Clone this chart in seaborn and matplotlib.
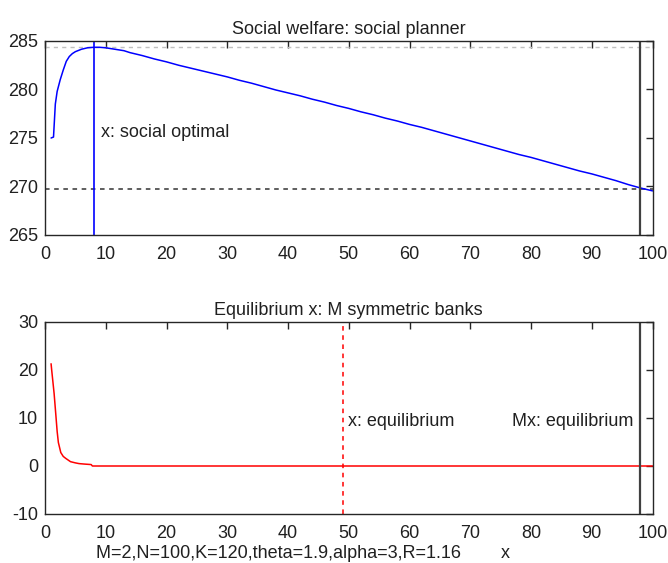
import numpy as np
import pandas as pd
import matplotlib
matplotlib.use("Agg")
import matplotlib.pyplot as plt
import seaborn as sns

# ---- data ----
welfare_x = [1.0, 1.4, 1.7, 2.0, 2.5, 3.0, 3.5, 4.0, 4.5, 5.0, 6.0, 7.0, 8.0, 9.0, 10.0,
             11, 12, 13, 14, 16, 18, 20, 22, 24, 26, 28, 30, 32, 34, 36, 38, 40, 42,
             44, 46, 48, 50, 52, 54, 56, 58, 60, 62, 64, 66, 68, 70, 72, 74, 76, 78,
             80, 82, 84, 86, 88, 90, 92, 94, 96, 98, 100]
welfare_y = [275.0, 275.1, 278.5, 279.8, 281.0, 282.0, 282.9, 283.4, 283.7, 283.9,
             284.15, 284.3, 284.35, 284.35, 284.3, 284.2, 284.1, 284.0, 283.8, 283.5,
             283.15, 282.85, 282.5, 282.2, 281.9, 281.6, 281.3, 280.95, 280.65, 280.3,
             279.95, 279.65, 279.35, 279.0, 278.7, 278.35, 278.05, 277.7, 277.4, 277.05,
             276.75, 276.4, 276.1, 275.75, 275.4, 275.05, 274.7, 274.35, 274.0, 273.65,
             273.3, 273.0, 272.65, 272.3, 271.95, 271.6, 271.3, 270.95, 270.6, 270.2,
             269.85, 269.55]

eq_x = [1.0, 1.1, 1.5, 1.8, 2.0, 2.2, 2.6, 3.0, 3.4, 4.2, 5.0, 5.6, 6.5, 7.6, 7.8, 100]
eq_y = [21.3, 20.0, 15.1, 10.4, 7.2, 4.9, 2.8, 2.0, 1.6, 0.9, 0.65, 0.5, 0.4, 0.3, 0.0, 0.0]

x_social_opt = 8
x_equilibrium = 49
mx_equilibrium = 98
welfare_max = 284.35
welfare_at_mx = 269.7

top_title = "Social welfare: social planner"
bottom_title = "Equilibrium x: M symmetric banks"
param_label = "M=2,N=100,K=120,theta=1.9,alpha=3,R=1.16"
x_ticks = [0, 10, 20, 30, 40, 50, 60, 70, 80, 90, 100]
top_yticks = [265, 270, 275, 280, 285]
bottom_yticks = [-10, 0, 10, 20, 30]

sns.set_style("white")
plt.rcParams['font.family'] = ['Liberation Sans', 'DejaVu Sans']
plt.rcParams['font.size'] = 13
plt.rcParams['axes.unicode_minus'] = False

FS = 13
fig = plt.figure(figsize=(6.68, 5.63), dpi=100)
ax1 = fig.add_axes([45 / 668, 1 - 235 / 563, 607.5 / 668, 194 / 563])
ax2 = fig.add_axes([45 / 668, 1 - 514 / 563, 607.5 / 668, 192 / 563])

df_w = pd.DataFrame({"x": welfare_x, "w": welfare_y})
df_e = pd.DataFrame({"x": eq_x, "e": eq_y})

# top panel
ax1.axhline(welfare_max, color="#c0c0c0", ls=(0, (3, 3)), lw=1)
ax1.axhline(welfare_at_mx, color="#333333", ls=(0, (3, 3)), lw=1.1)
sns.lineplot(data=df_w, x="x", y="w", ax=ax1, color="#0000ff", lw=1.1)
ax1.axvline(x_social_opt, color="#0000ff", lw=1.2)
ax1.axvline(mx_equilibrium, color="#404040", lw=1.6)
ax1.text(9.2, 275.6, "x: social optimal", va="center", ha="left", color="#202020", fontsize=FS)
ax1.set_xlim(0, 100)
ax1.set_ylim(265, 285)
ax1.set_xticks(x_ticks)
ax1.set_yticks(top_yticks)
ax1.set_title(top_title, fontsize=FS, pad=5, color="#202020")
ax1.set_xlabel("")
ax1.set_ylabel("")

# bottom panel
sns.lineplot(data=df_e, x="x", y="e", ax=ax2, color="#ff0000", lw=1.1)
ax2.axvline(x_equilibrium, color="#ff0000", ls=(0, (3, 3)), lw=1.1)
ax2.axvline(mx_equilibrium, color="#404040", lw=1.6)
ax2.text(49.8, 9.3, "x: equilibrium", va="center", ha="left", color="#202020", fontsize=FS)
ax2.text(76.9, 9.3, "Mx: equilibrium", va="center", ha="left", color="#202020", fontsize=FS)
ax2.set_xlim(0, 100)
ax2.set_ylim(-10, 30)
ax2.set_xticks(x_ticks)
ax2.set_yticks(bottom_yticks)
ax2.set_title(bottom_title, fontsize=FS, pad=5, color="#202020")
ax2.set_xlabel("")
ax2.set_ylabel("")

for ax in (ax1, ax2):
    for s in ax.spines.values():
        s.set_visible(True)
        s.set_color("#262626")
        s.set_linewidth(1.0)
    ax.tick_params(direction="in", top=True, right=True, length=5, width=1,
                   color="#262626", labelsize=FS, labelcolor="#202020")
    ax.tick_params(axis="x", pad=8)
    ax.tick_params(axis="y", pad=5)
    ax.grid(False)

fig.text(96 / 668, 1 - 553 / 563, param_label + "        x", ha="left", va="center",
         fontsize=FS, color="#202020")

fig.savefig("out.png", dpi=100)
